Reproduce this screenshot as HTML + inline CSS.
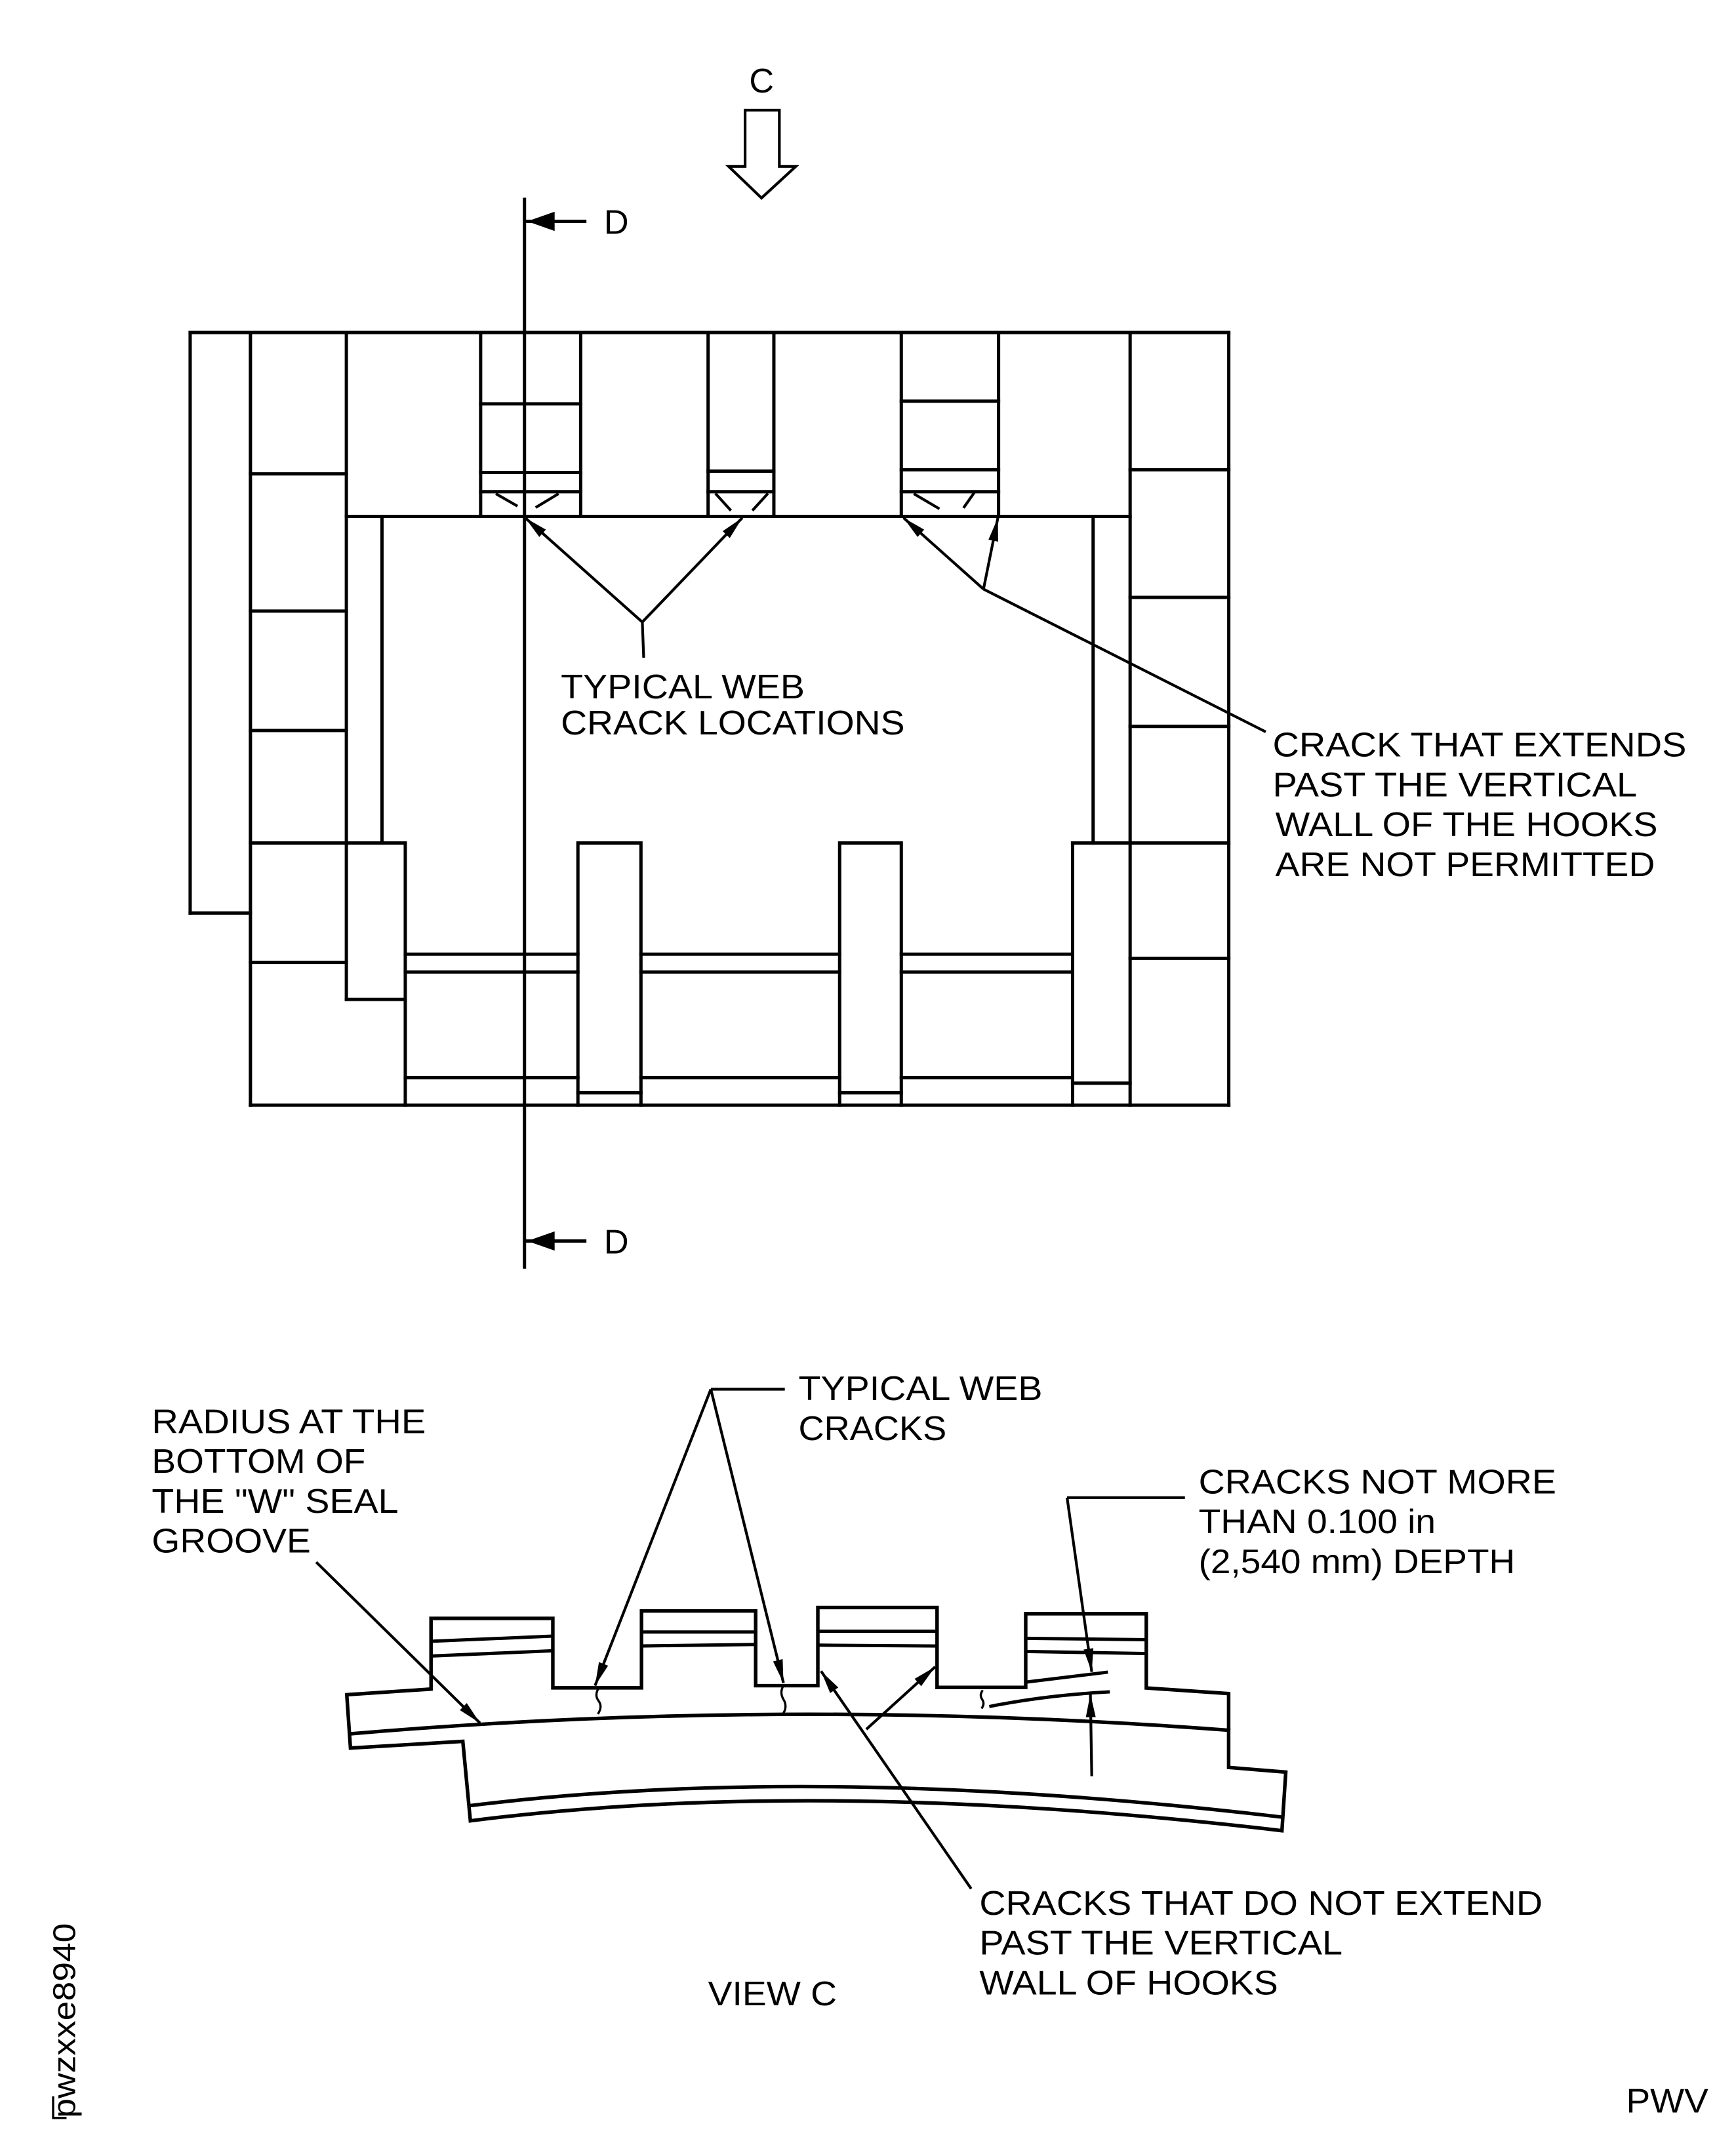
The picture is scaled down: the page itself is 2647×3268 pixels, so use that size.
<!DOCTYPE html>
<html><head><meta charset="utf-8"><style>
html,body{margin:0;padding:0;background:#fff}
svg{display:block}
text{font-family:"Liberation Sans",Arial,sans-serif;font-size:25px;fill:#000}
</style></head><body>
<svg width="2647" height="3268" viewBox="0 0 1280 1580.3" xmlns="http://www.w3.org/2000/svg">
<defs>
<marker id="a" markerUnits="userSpaceOnUse" markerWidth="20" markerHeight="10" viewBox="-18 -5 20 10" refX="0" refY="0" orient="auto"><path d="M0,0 L-17,-3.6 L-17,3.6 z" fill="#000"/></marker>
<marker id="d" markerUnits="userSpaceOnUse" markerWidth="24" markerHeight="16" viewBox="-22 -8 24 16" refX="0" refY="0" orient="auto"><path d="M0,0 L-20,-7 L-20,7 z" fill="#000"/></marker>
</defs>
<g transform="matrix(1.0103,0,0,1.012,-1.24,-1.73)">
<g stroke="#000" stroke-width="2.4" fill="none" stroke-linecap="square">
<polygon points="545,82 570,82 570,123 582,123 557,146 533,123 545,123" stroke-width="2"/>
<line x1="384" y1="147" x2="384" y2="925"/>
<line x1="428" y1="163" x2="386" y2="163" marker-end="url(#d)"/>
<line x1="428" y1="906" x2="386" y2="906" marker-end="url(#d)"/>
<line x1="140" y1="244" x2="898" y2="244"/>
<line x1="898" y1="244" x2="898" y2="807"/>
<line x1="184" y1="807" x2="898" y2="807"/>
<line x1="140" y1="244" x2="140" y2="667"/>
<line x1="140" y1="667" x2="184" y2="667"/>
<line x1="184" y1="244" x2="184" y2="807"/>
<line x1="254" y1="244" x2="254" y2="730"/>
<line x1="254" y1="730" x2="297" y2="730"/>
<line x1="184" y1="616" x2="297" y2="616"/>
<line x1="184" y1="347" x2="254" y2="347"/>
<line x1="184" y1="447" x2="254" y2="447"/>
<line x1="184" y1="534" x2="254" y2="534"/>
<line x1="184" y1="703" x2="254" y2="703"/>
<line x1="254" y1="378" x2="826" y2="378"/>
<line x1="352" y1="244" x2="352" y2="378"/><line x1="425" y1="244" x2="425" y2="378"/>
<line x1="518" y1="244" x2="518" y2="378"/><line x1="566" y1="244" x2="566" y2="378"/>
<line x1="659" y1="244" x2="659" y2="378"/><line x1="730" y1="244" x2="730" y2="378"/>
<line x1="352" y1="296" x2="425" y2="296"/><line x1="352" y1="346" x2="425" y2="346"/><line x1="352" y1="360" x2="425" y2="360"/>
<line x1="518" y1="345" x2="566" y2="345"/><line x1="518" y1="360" x2="566" y2="360"/>
<line x1="659" y1="294" x2="730" y2="294"/><line x1="659" y1="344" x2="730" y2="344"/><line x1="659" y1="360" x2="730" y2="360"/>
<g stroke-width="2">
<line x1="364" y1="362" x2="378" y2="370"/><line x1="408" y1="362" x2="393" y2="371"/>
<line x1="524" y1="362" x2="534" y2="373"/><line x1="561" y1="362" x2="551" y2="373"/>
<line x1="669" y1="362" x2="686" y2="372"/><line x1="712" y1="361" x2="705" y2="371"/>
</g>
<line x1="280" y1="378" x2="280" y2="616"/>
<line x1="799" y1="378" x2="799" y2="616"/>
<line x1="826" y1="244" x2="826" y2="807"/>
<line x1="826" y1="344" x2="898" y2="344"/>
<line x1="826" y1="437" x2="898" y2="437"/>
<line x1="826" y1="531" x2="898" y2="531"/>
<line x1="784" y1="616" x2="898" y2="616"/>
<line x1="826" y1="700" x2="898" y2="700"/>
<line x1="784" y1="616" x2="784" y2="807"/>
<line x1="784" y1="791" x2="826" y2="791"/>
<line x1="297" y1="616" x2="297" y2="807"/>
<polyline points="423,807 423,616 469,616 469,807"/><line x1="423" y1="798" x2="469" y2="798"/>
<polyline points="614,807 614,616 659,616 659,807"/><line x1="614" y1="798" x2="659" y2="798"/>
<line x1="297" y1="697" x2="423" y2="697"/><line x1="297" y1="710" x2="423" y2="710"/><line x1="297" y1="787" x2="423" y2="787"/>
<line x1="469" y1="697" x2="614" y2="697"/><line x1="469" y1="710" x2="614" y2="710"/><line x1="469" y1="787" x2="614" y2="787"/>
<line x1="659" y1="697" x2="784" y2="697"/><line x1="659" y1="710" x2="784" y2="710"/><line x1="659" y1="787" x2="784" y2="787"/>
<g stroke-width="2" stroke-linecap="butt">
<line x1="471" y1="481" x2="470" y2="455"/>
<line x1="470" y1="455" x2="384.5" y2="379" marker-end="url(#a)"/>
<line x1="470" y1="455" x2="543" y2="379" marker-end="url(#a)"/>
<line x1="719" y1="431" x2="660.6" y2="379" marker-end="url(#a)"/>
<line x1="719" y1="431" x2="729.5" y2="379" marker-end="url(#a)"/>
<line x1="719" y1="431" x2="925" y2="535"/>
</g>
<path stroke-width="2.6" stroke-linejoin="miter" d="M254.3,1236.6 L315.8,1232.5 L315.8,1181 L404.7,1181 L404.7,1231.6 L469.4,1231.6 L469.4,1175.6 L552.7,1175.6 L552.7,1230 L598.1,1230 L598.1,1173.1 L685.1,1173.1 L685.1,1231.3 L749.8,1231.3 L749.8,1177.6 L837.8,1177.6 L837.8,1231.7 L897.9,1235.8 L897.9,1289.6 L939.6,1293 L936.8,1335.7 Q600,1296 344.5,1328.5 L339,1270.6 L257,1275.5 Z"/>
<path stroke-width="2.6" d="M257,1265.1 Q575,1238 897.9,1262.5"/>
<path stroke-width="2.6" d="M344.5,1317.4 Q600,1286 936.8,1325.8"/>
<line x1="315.8" y1="1197.7" x2="404.7" y2="1193.9"/><line x1="315.8" y1="1208.4" x2="404.7" y2="1204.6"/>
<line x1="469.4" y1="1190.9" x2="552.7" y2="1190.9"/><line x1="469.4" y1="1201.1" x2="552.7" y2="1200"/>
<line x1="598.1" y1="1190.4" x2="685.1" y2="1190.4"/><line x1="598.1" y1="1200.5" x2="685.1" y2="1201.1"/>
<line x1="749.8" y1="1195.5" x2="837.8" y2="1196.5"/><line x1="749.8" y1="1205.1" x2="837.8" y2="1206.6"/>
<line x1="752" y1="1227.2" x2="808.6" y2="1220.3"/>
<path d="M724.4,1245 Q765,1237 810,1234.6"/>
<g stroke-width="1.6">
<path d="M438,1232 q-3,5 0,9 q3,4 0,9"/>
<path d="M573,1230 q-3,5 0,10 q3,5 0,10"/>
<path d="M718,1234 q-2,3 0,6 q2,3 0,6"/>
</g>
<g stroke-width="2" stroke-linecap="butt">
<line x1="232" y1="1140" x2="351.5" y2="1257.2" marker-end="url(#a)"/>
<line x1="574" y1="1014" x2="520" y2="1014"/>
<line x1="520" y1="1014" x2="435.5" y2="1230" marker-end="url(#a)"/>
<line x1="520" y1="1014" x2="573" y2="1228" marker-end="url(#a)"/>
<line x1="710" y1="1378" x2="600.4" y2="1219.4" marker-end="url(#a)"/>
<line x1="633.5" y1="1261.8" x2="683.7" y2="1216.3" marker-end="url(#a)"/>
<line x1="866" y1="1093" x2="780" y2="1093"/>
<line x1="780" y1="1093" x2="798" y2="1220" marker-end="url(#a)"/>
<line x1="798" y1="1296" x2="797" y2="1236" marker-end="url(#a)"/>
</g>
<polyline points="49,1545 40,1545 40,1530" stroke-width="1.6"/>
</g>
<g>
<text x="548" y="69">C</text>
<text x="442" y="172">D</text>
<text x="442" y="915">D</text>
<text x="410.5" y="510.5" textLength="178" lengthAdjust="spacingAndGlyphs">TYPICAL WEB</text>
<text x="410.5" y="537" textLength="251" lengthAdjust="spacingAndGlyphs">CRACK LOCATIONS</text>
<text x="930" y="553" textLength="302" lengthAdjust="spacingAndGlyphs">CRACK THAT EXTENDS</text>
<text x="930" y="582" textLength="266" lengthAdjust="spacingAndGlyphs">PAST THE VERTICAL</text>
<text x="932" y="611" textLength="279" lengthAdjust="spacingAndGlyphs">WALL OF THE HOOKS</text>
<text x="932" y="640" textLength="277" lengthAdjust="spacingAndGlyphs">ARE NOT PERMITTED</text>
<text x="584" y="1022" textLength="178" lengthAdjust="spacingAndGlyphs">TYPICAL WEB</text>
<text x="584" y="1051" textLength="108" lengthAdjust="spacingAndGlyphs">CRACKS</text>
<text x="112" y="1046" textLength="200" lengthAdjust="spacingAndGlyphs">RADIUS AT THE</text>
<text x="112" y="1075" textLength="156" lengthAdjust="spacingAndGlyphs">BOTTOM OF</text>
<text x="112" y="1104" textLength="180" lengthAdjust="spacingAndGlyphs">THE "W" SEAL</text>
<text x="112" y="1133" textLength="116" lengthAdjust="spacingAndGlyphs">GROOVE</text>
<text x="876" y="1090" textLength="261" lengthAdjust="spacingAndGlyphs">CRACKS NOT MORE</text>
<text x="876" y="1119" textLength="173" lengthAdjust="spacingAndGlyphs">THAN 0.100 in</text>
<text x="876" y="1148" textLength="231" lengthAdjust="spacingAndGlyphs">(2,540 mm) DEPTH</text>
<text x="716" y="1397" textLength="411" lengthAdjust="spacingAndGlyphs">CRACKS THAT DO NOT EXTEND</text>
<text x="716" y="1426" textLength="265" lengthAdjust="spacingAndGlyphs">PAST THE VERTICAL</text>
<text x="716" y="1455" textLength="218" lengthAdjust="spacingAndGlyphs">WALL OF HOOKS</text>
<text x="518" y="1463" textLength="94" lengthAdjust="spacingAndGlyphs">VIEW C</text>
<text x="1188" y="1541" textLength="60" lengthAdjust="spacingAndGlyphs">PWV</text>
<text transform="translate(56,1545) rotate(-90)" style="font-size:23px" textLength="142" lengthAdjust="spacingAndGlyphs">pwzxxe8940</text>
</g>
</g>
</svg>
</body></html>
